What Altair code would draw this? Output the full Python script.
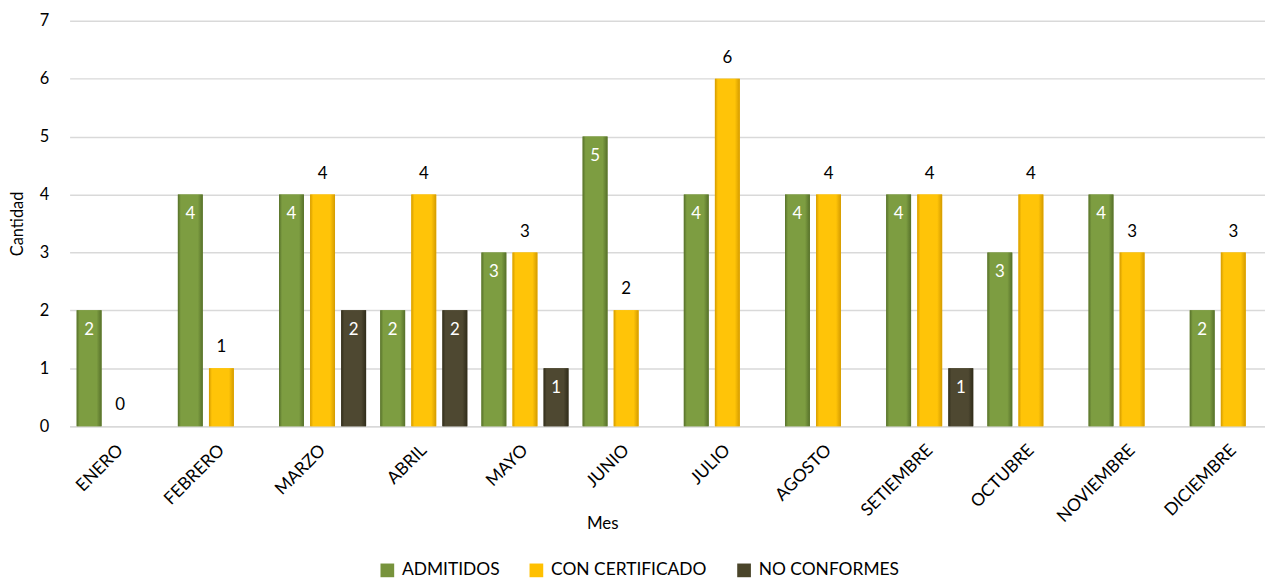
import altair as alt
import pandas as pd

meses = ["ENERO", "FEBRERO", "MARZO", "ABRIL", "MAYO", "JUNIO", "JULIO",
         "AGOSTO", "SETIEMBRE", "OCTUBRE", "NOVIEMBRE", "DICIEMBRE"]
series = ["ADMITIDOS", "CON CERTIFICADO", "NO CONFORMES"]
admitidos = [2, 4, 4, 2, 3, 5, 4, 4, 4, 3, 4, 2]
con_certificado = [0, 1, 4, 4, 3, 2, 6, 4, 4, 4, 3, 3]
no_conformes = [None, None, 2, 2, 1, None, None, None, 1, None, None, None]
colores = ["#77933C", "#FFC000", "#4A452A"]
bordes = ["#56702A", "#D49B00", "#302C1A"]
centros = ["#7D9D41", "#FFC408", "#4E4831"]

rows = []
for vals, s in zip([admitidos, con_certificado, no_conformes], series):
    for m, v in zip(meses, vals):
        if v is not None:
            rows.append({"Mes": m, "Serie": s, "Cantidad": v})
df = pd.DataFrame(rows)

FONT = "Lato"

x = alt.X("Mes:N", sort=meses,
          scale=alt.Scale(range=[0, 1222], paddingInner=0.14, paddingOuter=0.07),
          axis=alt.Axis(title="Mes", labelAngle=-45, labelFontSize=17.5, labelFont=FONT,
                        labelColor="#000000", labelPadding=15, labelOffset=-6, ticks=False,
                        domainColor="#d9d9d9", domainWidth=1.5, titleFontSize=17, titleFont=FONT,
                        titleFontWeight="normal", titleX=536, titleY=98, titleAlign="center",
                        titleBaseline="middle", titleColor="#000000"))
xo = alt.XOffset("Serie:N", sort=series, scale=alt.Scale(domain=series, paddingInner=0.2, paddingOuter=0))
y = alt.Y("Cantidad:Q",
          scale=alt.Scale(domain=[0, 7], nice=False),
          axis=alt.Axis(title="Cantidad", values=[0, 1, 2, 3, 4, 5, 6, 7], labelFontSize=16.5,
                        labelFont=FONT, labelColor="#000000", labelPadding=21, ticks=False,
                        domain=False, gridColor="#d9d9d9", gridWidth=1.5, labelOverlap=False,
                        titleFontSize=16.5, titleFont=FONT, titleFontWeight="normal",
                        titleX=-52, titleY=204, titleAngle=-90, titleAlign="center",
                        titleBaseline="middle", titleColor="#000000"))
color = alt.Color("Serie:N", sort=series,
                  scale=alt.Scale(domain=series, range=colores),
                  legend=alt.Legend(title=None, orient="none", direction="horizontal",
                                    legendX=311, legendY=544, symbolType="square",
                                    symbolSize=190, symbolStrokeWidth=0, labelFontSize=17.5,
                                    labelFont=FONT, labelColor="#000000", columnPadding=28,
                                    labelOffset=6))

base = alt.Chart(df)

bars = base.mark_bar(stroke=None).encode(x=x, xOffset=xo, y=y, color=color)

layers = [bars]
for s, b, c in zip(series, bordes, centros):
    grad = alt.Gradient(
        gradient="linear", x1=0, y1=0, x2=1, y2=0,
        stops=[alt.GradientStop(offset=0, color=b),
               alt.GradientStop(offset=0.12, color=c),
               alt.GradientStop(offset=0.8, color=c),
               alt.GradientStop(offset=1, color=b)])
    layers.append(
        base.transform_filter(alt.datum.Serie == s)
        .mark_bar(fill=grad, stroke=None)
        .encode(x=x, xOffset=xo, y=y)
    )

inner = base.transform_filter(alt.datum.Serie != "CON CERTIFICADO").mark_text(
    dy=20, fontSize=17, font=FONT, color="white", baseline="middle"
).encode(x=x, xOffset=xo, y=y, text="Cantidad:Q")

above = base.transform_filter(alt.datum.Serie == "CON CERTIFICADO").mark_text(
    dy=-21, fontSize=17, font=FONT, color="black", baseline="middle"
).encode(x=x, xOffset=xo, y=y, text="Cantidad:Q")

layers += [inner, above]

chart = alt.layer(*layers).properties(
    width=1203, height=408,
    autosize=alt.AutoSizeParams(type="none"),
    padding={"left": 62, "top": 11, "right": 0, "bottom": 155},
).configure(font=FONT, view=alt.ViewConfig(stroke=None))

chart.save("out.html", embed_options={"renderer": "svg", "actions": False})
